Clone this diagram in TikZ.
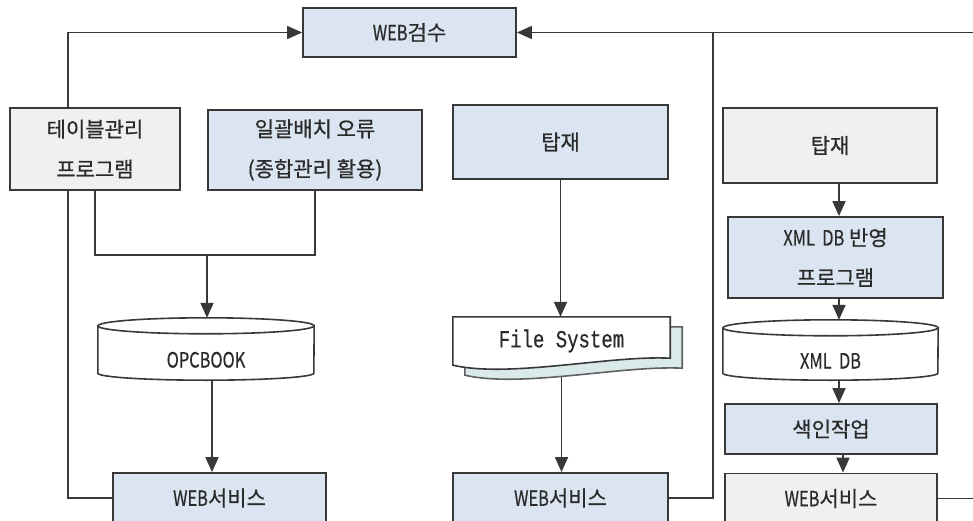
\documentclass[tikz,border=0pt]{standalone}
\usepackage{fontspec}
\usepackage{graphicx}
\setmainfont{Noto Sans CJK KR}[FakeBold=0.6]
\newfontfamily\fsmono{Liberation Mono}[FakeBold=0.6]
\usetikzlibrary{arrows.meta,backgrounds}
\definecolor{boxblue}{HTML}{DBE5F1}
\definecolor{boxgray}{HTML}{F0F0F0}
\definecolor{edgec}{HTML}{383838}
\definecolor{txtc}{HTML}{2A2A2A}
\definecolor{shadec}{HTML}{DAEAEA}
\newcommand\cond[1]{\scalebox{0.78}[1]{#1}}
% cylinder drawn around an (invisible) node: #1 node name, #2 x radius
\newcommand\cylback[2]{%
  \draw[cylstyle] ([yshift=-8pt]#1.north west) -- ([yshift=7pt]#1.south west)
    arc[start angle=180,end angle=360,x radius=#2,y radius=7pt]
    -- ([yshift=-8pt]#1.north east)
    arc[start angle=0,end angle=180,x radius=#2,y radius=8pt] -- cycle;
  \draw[cylstyle] ([yshift=-8pt]#1.north west)
    arc[start angle=180,end angle=360,x radius=#2,y radius=8pt];
}
% document shape around node fs: #1 dx, #2 dy, #3 style
\newcommand\docback[3]{%
  \draw[#3] ([shift={(#1,#2)}]fs.north west) -- ([shift={(#1,#2)}]fs.north east)
    -- ([shift={(#1,#2+7pt)}]fs.south east)
    .. controls ([shift={(#1+48pt,#2+10pt)}]fs.south) and ([shift={(#1-52pt,#2-13pt)}]fs.south)
    .. ([shift={(#1,#2)}]fs.south west) -- cycle;
}
\begin{document}
\begin{tikzpicture}[x=1pt,y=1pt,
  every node/.style={font=\fontsize{21}{40}\selectfont, text=txtc, inner sep=0pt, align=center},
  bx/.style={draw=edgec, line width=1.8pt},
  bluebox/.style={bx, fill=boxblue},
  graybox/.style={bx, fill=boxgray},
  holder/.style={text height=37pt, text depth=0pt},
  cylstyle/.style={draw=edgec, line width=1.6pt, fill=white},
  docmain/.style={draw=edgec, line width=1.6pt, fill=white},
  docshadow/.style={draw=edgec!80, line width=1.6pt, fill=shadec},
  conn/.style={draw=edgec, line width=1.7pt},
  arr/.style={conn, -{Triangle[length=15pt,width=13pt]}},
]
\useasboundingbox (0,0) rectangle (973,-521);

% nodes
\node[bluebox, minimum width=213pt, minimum height=49pt] (web) at (409.5,-32.5) {\cond{WEB}검수};
\node[graybox, minimum width=170pt, minimum height=82pt] (tbl) at (95,-149) {테이블관리\\프로그램};
\node[bluebox, minimum width=214pt, minimum height=80pt] (batch) at (315,-150) {일괄배치 오류\\(종합관리 활용)};
\node[holder, minimum width=216pt, minimum height=62pt] (opc) at (206,-349) {\cond{OPCBOOK}};
\node[bluebox, minimum width=213pt, minimum height=50pt] (ws1) at (219.5,-498) {\cond{WEB}서비스};

\node[bluebox, minimum width=215pt, minimum height=74pt] (tj1) at (560.5,-142) {탑재};
\node[minimum width=217pt, minimum height=48pt] (fs) at (561.5,-341) {\raisebox{-3pt}{\fsmono\fontsize{19}{20}\selectfont\scalebox{1}[1.3]{File System}}};
\node[bluebox, minimum width=215pt, minimum height=50pt] (ws2) at (560.5,-498) {\cond{WEB}서비스};

\node[graybox, minimum width=214pt, minimum height=75pt] (tj2) at (830,-145.5) {탑재};
\node[bluebox, minimum width=215pt, minimum height=81pt] (xmlp) at (835.5,-257.5) {\cond{XML\ \ DB} 반영\\프로그램};
\node[holder, minimum width=215pt, minimum height=60pt] (xdb) at (830.5,-350) {\cond{XML\ \ DB}};
\node[bluebox, minimum width=212pt, minimum height=50pt] (idx) at (831,-429) {색인작업};
\node[graybox, minimum width=212pt, minimum height=50pt] (ws3) at (831,-498.5) {\cond{WEB}서비스};

% helper coordinates
\coordinate (lx) at (68,0);
\coordinate (mx) at (713,0);
\coordinate (rx) at (973,0);
\coordinate (jn) at (207,-255);
\coordinate (o1) at ([xshift=6pt]opc.south);
\coordinate (f1) at ([yshift=-12pt]fs.south);
\coordinate (rc) at ([xshift=9pt]tj2.south);
\coordinate (rc2) at ([xshift=12pt]idx.south);

% connectors
\draw[arr] (lx |- tbl.north) |- (web.west);
\draw[conn] (ws1.west) -| (lx |- tbl.south);
\draw[arr] (rx |- web.east) -- (web.east);
\draw[conn] (ws2.east) -| (mx |- web.east);
\draw[conn] (ws3.east) -- (ws3.east -| rx);

\draw[conn] (tbl.south) |- (jn) -| (batch.south);
\draw[arr] (jn) -- (jn |- opc.north);
\draw[arr] (o1) -- (o1 |- ws1.north);

\draw[arr] (tj1.south) -- (tj1.south |- fs.north);
\draw[arr] (f1) -- (f1 |- ws2.north);

\draw[arr] (rc) -- (rc |- xmlp.north);
\draw[arr] (rc |- xmlp.south) -- (rc |- xdb.north);
\draw[arr] (rc |- xdb.south) -- (rc |- idx.north);
\draw[arr] (rc2) -- (rc2 |- ws3.north);

\begin{pgfonlayer}{background}
  \fill[white] (0,0) rectangle (973,-521);
  \cylback{opc}{108pt}
  \cylback{xdb}{107.5pt}
  \docback{12pt}{-10pt}{docshadow}
  \docback{0pt}{0pt}{docmain}
\end{pgfonlayer}
\end{tikzpicture}
\end{document}
